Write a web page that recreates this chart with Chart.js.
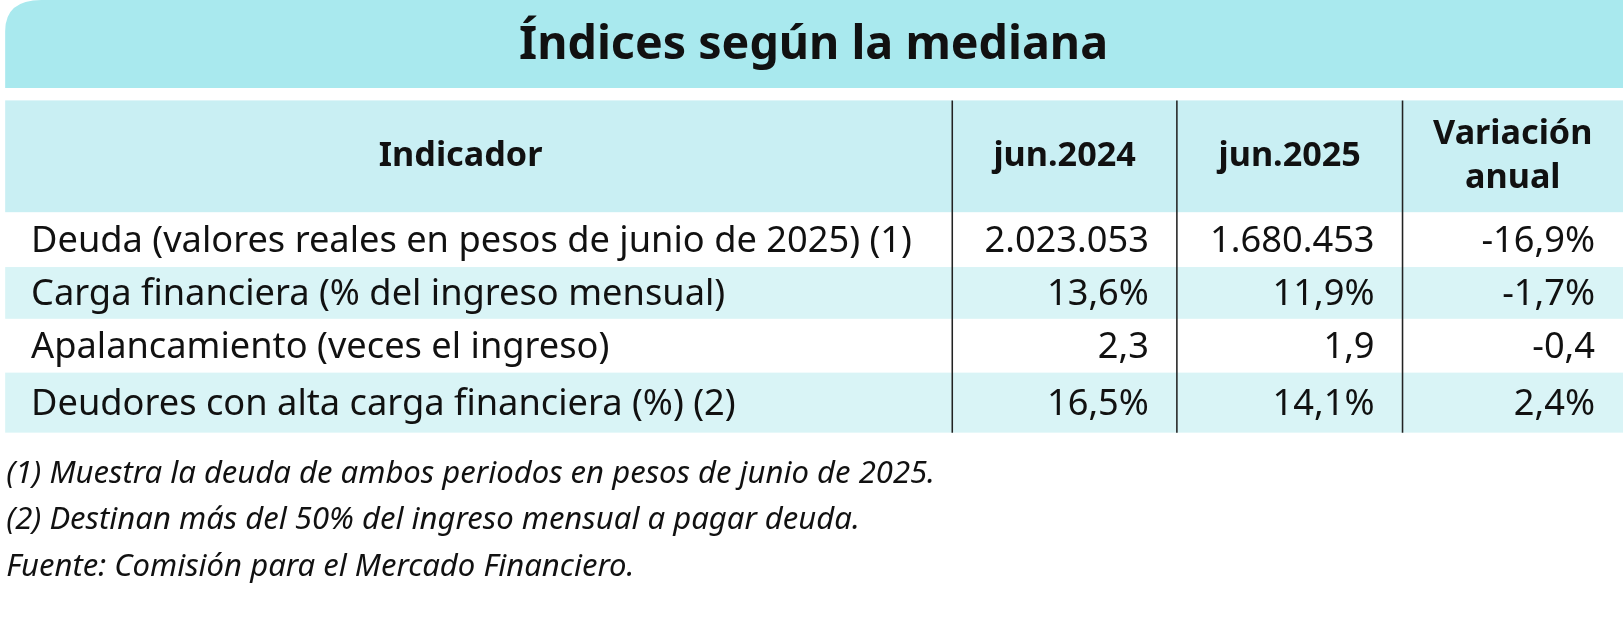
<!DOCTYPE html>
<html>
<head>
<meta charset="utf-8">
<script src="https://cdn.jsdelivr.net/npm/chart.js@4"></script>
<style>body{margin:0;background:#fff}</style>
</head>
<body>
<canvas id="tabla" width="1623" height="628"></canvas>
<script>
var title = 'Índices según la mediana'
var headers = ['Indicador', 'jun.2024', 'jun.2025', 'Variación\nanual']
var indicators = [
  'Deuda (valores reales en pesos de junio de 2025) (1)',
  'Carga financiera (% del ingreso mensual)',
  'Apalancamiento (veces el ingreso)',
  'Deudores con alta carga financiera (%) (2)'
]
var jun2024 = ['2.023.053', '13,6%', '2,3', '16,5%']
var jun2025 = ['1.680.453', '11,9%', '1,9', '14,1%']
var variacion = ['-16,9%', '-1,7%', '-0,4', '2,4%']
var notes = [
  '(1) Muestra la deuda de ambos periodos en pesos de junio de 2025.',
  '(2) Destinan más del 50% del ingreso mensual a pagar deuda.',
  'Fuente: Comisión para el Mercado Financiero.'
]

var FONT = '"Noto Sans", sans-serif'
var colX = [5, 920, 1137, 1355, 1568]
var rowTop = [97, 205, 258, 308, 360, 418]

var tablePlugin = {
  id: 'tabla',
  afterDraw: function(chart) {
    var ctx = chart.ctx
    ctx.save()
    ctx.scale(1623 / 1568, 1623 / 1568)
    // banner
    ctx.fillStyle = '#a9e9ee'
    ctx.beginPath()
    ctx.moveTo(5, 85); ctx.lineTo(5, 30)
    ctx.quadraticCurveTo(5, 0, 40, 0)
    ctx.lineTo(1568, 0); ctx.lineTo(1568, 85); ctx.closePath()
    ctx.fill()
    ctx.fillStyle = '#111'
    ctx.textAlign = 'center'; ctx.textBaseline = 'middle'
    ctx.font = 'bold 45px ' + FONT
    ctx.fillText(title, 786, 44)

    // header and striped rows
    ctx.fillStyle = '#c9eff3'
    ctx.fillRect(5, rowTop[0], 1563, rowTop[1] - rowTop[0])
    ctx.fillStyle = '#d9f4f6'
    ctx.fillRect(5, rowTop[2], 1563, rowTop[3] - rowTop[2])
    ctx.fillRect(5, rowTop[4], 1563, rowTop[5] - rowTop[4])

    ctx.strokeStyle = '#222'; ctx.lineWidth = 1.5
    for (var i = 1; i < 4; i++) {
      ctx.beginPath(); ctx.moveTo(colX[i], rowTop[0]); ctx.lineTo(colX[i], rowTop[5]); ctx.stroke()
    }

    // header text
    ctx.font = 'bold 33px ' + FONT
    ctx.fillStyle = '#111'
    headers.forEach(function(h, i) {
      var cx = i === 0 ? 445 : (colX[i] + colX[i + 1]) / 2
      var lines = h.split('\n')
      var cy = (rowTop[0] + rowTop[1]) / 2
      lines.forEach(function(l, k) {
        ctx.fillText(l, cx, cy + (k - (lines.length - 1) / 2) * 42)
      })
    })

    // body
    ctx.font = '35px ' + FONT
    var cols = [jun2024, jun2025, variacion]
    indicators.forEach(function(name, r) {
      var cy = (rowTop[r + 1] + rowTop[r + 2]) / 2 + 2
      ctx.textAlign = 'left'
      ctx.fillText(name, 30, cy, 862)
      ctx.textAlign = 'right'
      cols.forEach(function(c, j) { ctx.fillText(c[r], colX[j + 2] - 27, cy) })
    })

    // notes
    ctx.textAlign = 'left'
    ctx.font = 'italic 30px ' + FONT
    var widths = [955, 880, 655]
    notes.forEach(function(n, k) { ctx.fillText(n, 6, 458 + k * 45, widths[k]) })
    ctx.restore()
  }
}

new Chart(document.getElementById('tabla'), {
  type: 'bar',
  data: { labels: indicators, datasets: [{ data: [], backgroundColor: 'transparent' }] },
  options: {
    responsive: false, animation: false, devicePixelRatio: 1,
    plugins: { legend: { display: false }, tooltip: { enabled: false } },
    scales: { x: { display: false }, y: { display: false } }
  },
  plugins: [tablePlugin]
})
</script>
</body>
</html>
